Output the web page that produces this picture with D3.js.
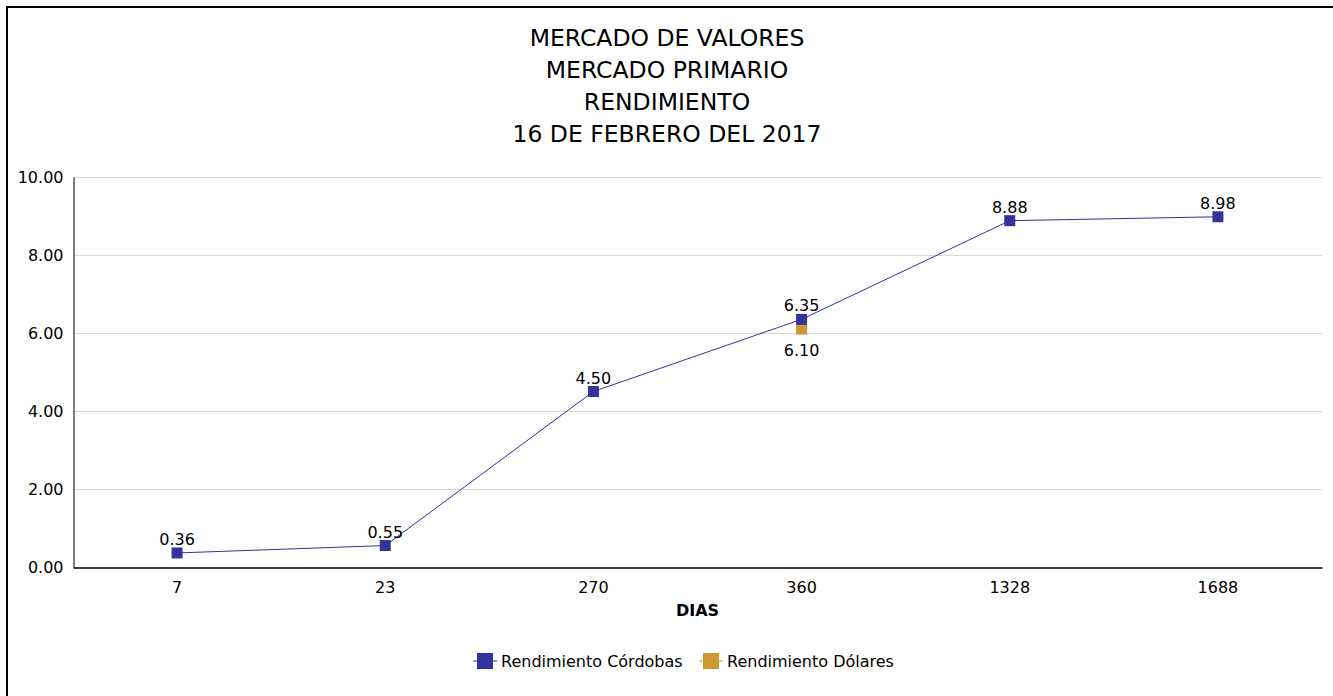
<!DOCTYPE html>
<html>
<head>
<meta charset="utf-8">
<script src="https://cdn.jsdelivr.net/npm/d3@7"></script>
<style>
  body { margin: 0; background: #fff; overflow: hidden; }
  svg { display: block; font-family: "DejaVu Sans", Verdana, sans-serif; }
</style>
</head>
<body>
<svg id="chart"></svg>
<script>
const d3 = window.d3;

// Chart data
const titleLines = ["MERCADO DE VALORES", "MERCADO PRIMARIO", "RENDIMIENTO", "16 DE FEBRERO DEL 2017"];
const dias = ["7", "23", "270", "360", "1328", "1688"];
const rendCordobas = [0.36, 0.55, 4.50, 6.35, 8.88, 8.98];
const rendDolares = [null, null, null, 6.10, null, null];
const yTicks = [0, 2, 4, 6, 8, 10];

const width = 1333, height = 696;
const margin = { top: 177, right: 11, bottom: 129, left: 73 };

const svg = d3.select("#chart")
    .attr("width", width)
    .attr("height", height);

// Outer frame: only the top and left edges are inside the view
svg.append("path")
    .attr("d", `M7,${height}V7H${width}`)
    .attr("fill", "none")
    .attr("stroke", "#000")
    .attr("stroke-width", 2);

// Title
svg.append("g")
    .selectAll("text")
    .data(titleLines)
    .join("text")
    .attr("x", 667)
    .attr("y", (d, i) => 46 + i * 32)
    .attr("text-anchor", "middle")
    .attr("font-size", "23.5px")
    .attr("fill", "#000")
    .text(d => d);

const x = d3.scaleBand()
    .domain(dias)
    .range([margin.left, width - margin.right]);

const y = d3.scaleLinear()
    .domain([0, 10])
    .range([height - margin.bottom, margin.top]);

const cx = d => x(d) + x.bandwidth() / 2;

// Grid lines
svg.append("g")
    .selectAll("line")
    .data(yTicks.slice(1))
    .join("line")
    .attr("x1", margin.left).attr("x2", width - margin.right)
    .attr("y1", d => y(d) + 0.5).attr("y2", d => y(d) + 0.5)
    .attr("stroke", "#d9d9d9")
    .attr("stroke-width", 1);

// Y axis
const yAxis = svg.append("g")
    .attr("transform", `translate(${margin.left + 0.5},0)`)
    .call(d3.axisLeft(y).tickValues(yTicks).tickFormat(d3.format(".2f")).tickSize(0).tickPadding(10));
yAxis.select(".domain").attr("stroke", "#000");
yAxis.selectAll("text").attr("font-size", "16px").attr("fill", "#000").attr("font-family", "DejaVu Sans");

// X axis
const xAxis = svg.append("g")
    .attr("transform", `translate(0,${y(0) + 0.5})`)
    .call(d3.axisBottom(x).tickSize(0).tickPadding(14));
xAxis.select(".domain").attr("stroke", "#000").attr("stroke-width", 1.5);
xAxis.selectAll("text").attr("font-size", "16px").attr("fill", "#000").attr("font-family", "DejaVu Sans");

// X axis title
svg.append("text")
    .attr("x", (margin.left + width - margin.right) / 2)
    .attr("y", 616)
    .attr("text-anchor", "middle")
    .attr("font-size", "16px")
    .attr("font-weight", "bold")
    .text("DIAS");

const seriesColors = { cordobas: "#333399", dolares: "#cc9933" };

// Córdobas line
const line = d3.line()
    .defined(d => d.v != null)
    .x(d => cx(d.dia))
    .y(d => y(d.v));

const cordobasData = dias.map((dia, i) => ({ dia: dia, v: rendCordobas[i] }));
const dolaresData = dias.map((dia, i) => ({ dia: dia, v: rendDolares[i] })).filter(d => d.v != null);

svg.append("path")
    .datum(cordobasData)
    .attr("d", line)
    .attr("fill", "none")
    .attr("stroke", seriesColors.cordobas)
    .attr("stroke-width", 1);

const markerSize = 11;

// Dólares markers (drawn first so Córdobas sit on top)
svg.append("g")
    .selectAll("rect")
    .data(dolaresData)
    .join("rect")
    .attr("x", d => cx(d.dia) - markerSize / 2)
    .attr("y", d => y(d.v) - markerSize / 2)
    .attr("width", markerSize).attr("height", markerSize)
    .attr("fill", seriesColors.dolares);

svg.append("g")
    .selectAll("rect")
    .data(cordobasData)
    .join("rect")
    .attr("x", d => cx(d.dia) - markerSize / 2)
    .attr("y", d => y(d.v) - markerSize / 2)
    .attr("width", markerSize).attr("height", markerSize)
    .attr("fill", seriesColors.cordobas);

// Value labels
svg.append("g")
    .selectAll("text")
    .data(cordobasData)
    .join("text")
    .attr("x", d => cx(d.dia))
    .attr("y", d => y(d.v) - 8)
    .attr("text-anchor", "middle")
    .attr("font-size", "16px")
    .text(d => d.v.toFixed(2));

svg.append("g")
    .selectAll("text")
    .data(dolaresData)
    .join("text")
    .attr("x", d => cx(d.dia))
    .attr("y", d => y(d.v) + 27)
    .attr("text-anchor", "middle")
    .attr("font-size", "16px")
    .text(d => d.v.toFixed(2));

// Legend
const legendItems = [
    { name: "Rendimiento Córdobas", color: seriesColors.cordobas, x: 473 },
    { name: "Rendimiento Dólares", color: seriesColors.dolares, x: 699 }
];
const legend = svg.append("g")
    .selectAll("g")
    .data(legendItems)
    .join("g")
    .attr("transform", d => `translate(${d.x},661)`);
legend.append("line")
    .attr("x1", 0).attr("x2", 24)
    .attr("stroke", d => d.color).attr("stroke-width", 1);
legend.append("rect")
    .attr("x", 4).attr("y", -8)
    .attr("width", 16).attr("height", 16)
    .attr("fill", d => d.color);
legend.append("text")
    .attr("x", 28).attr("y", 6)
    .attr("font-size", "16px")
    .text(d => d.name);
</script>
</body>
</html>
